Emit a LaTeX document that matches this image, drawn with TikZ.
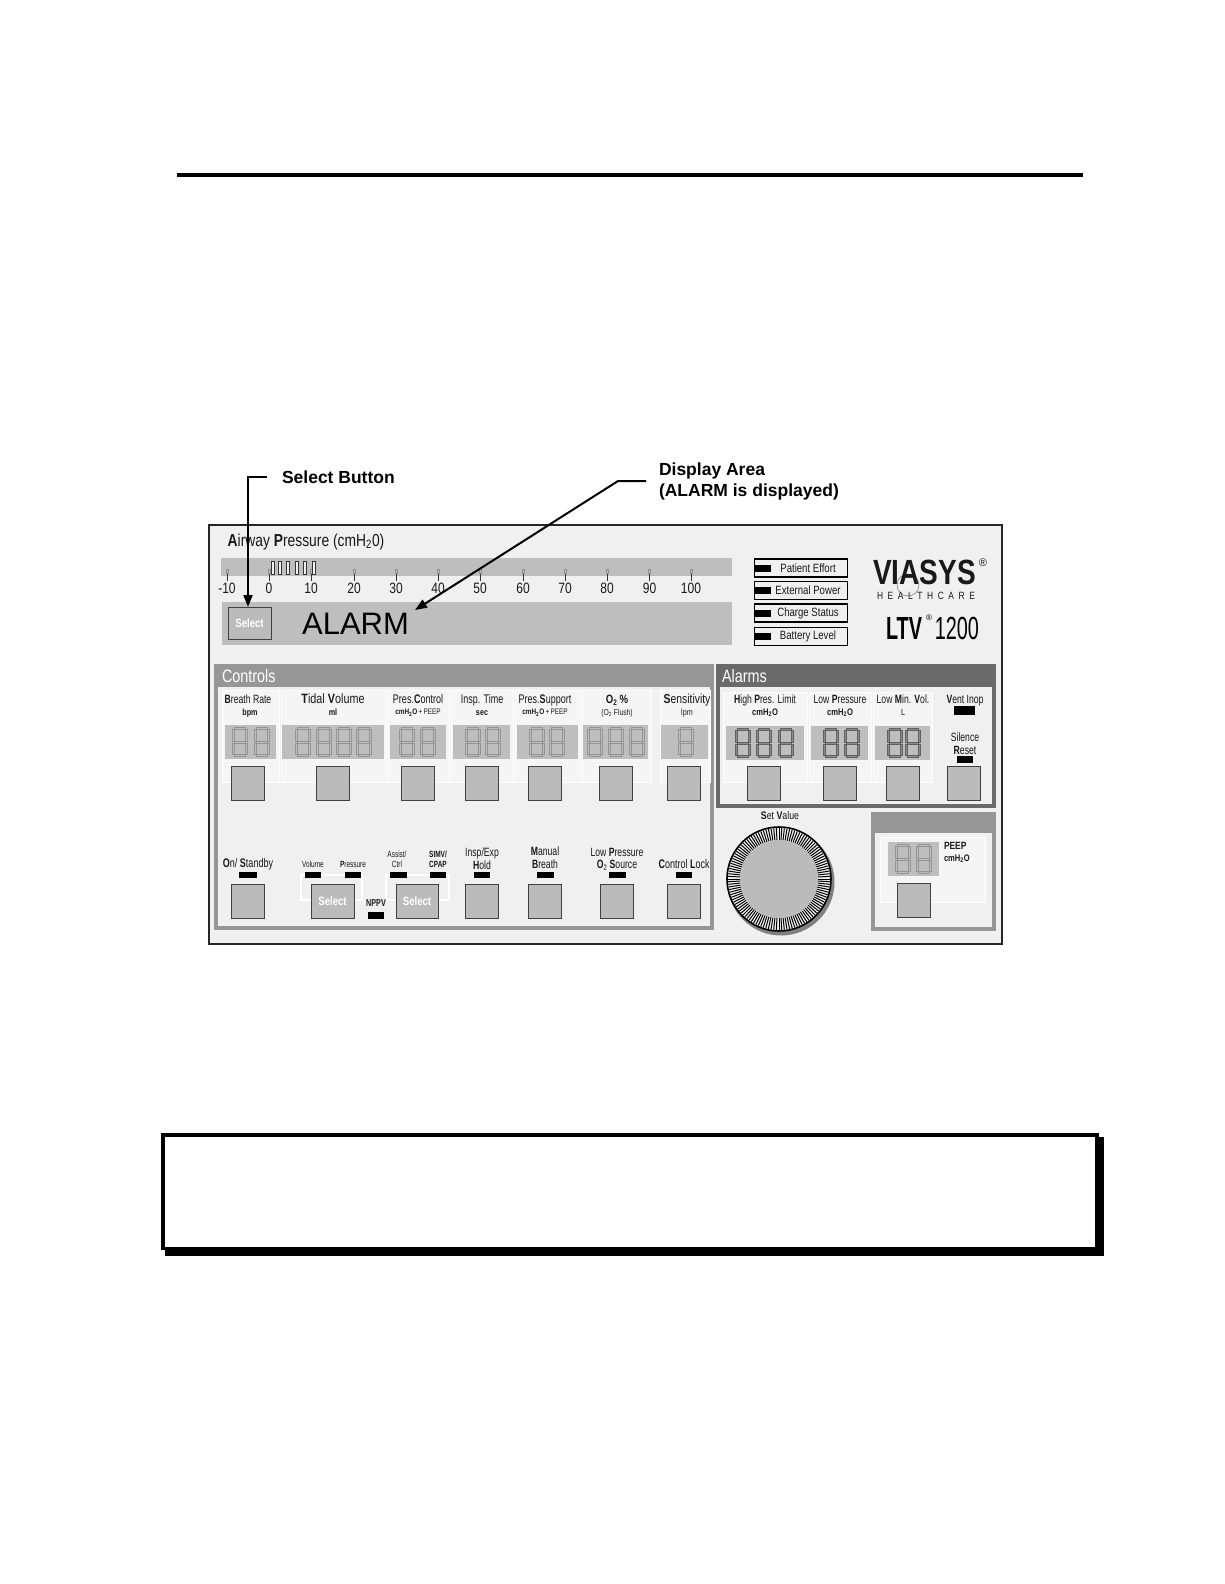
\documentclass[tikz,border=0pt]{standalone}
\usepackage{fontspec}
\usetikzlibrary{arrows.meta}
\setmainfont{Liberation Sans}
\newfontfamily\nar[FakeStretch=0.8]{Liberation Sans}
\newfontfamily\nnar[FakeStretch=0.72]{Liberation Sans}
\newfontfamily\vnar[FakeStretch=0.62]{Liberation Sans}
\definecolor{panelbg}{HTML}{F0F0F0}
\definecolor{stripc}{HTML}{BEBEBE}
\definecolor{btnc}{HTML}{BBBBBB}
\definecolor{ctrlc}{HTML}{969696}
\definecolor{alarmc}{HTML}{6A6A6A}
\definecolor{cellc}{HTML}{F5F5F5}
\newcounter{tc}
\newcommand\tx[4]{\stepcounter{tc}\edef\nm{t\number\value{tc}}%
  \node[txt,anchor=base,yshift={-0.36*#2*1pt},font=\fontsize{#2}{#2}\selectfont\nar,#3] (\nm) at (#1) {#4};}
\newcommand\txn[4]{\stepcounter{tc}\edef\nm{t\number\value{tc}}%
  \node[txt,anchor=base,yshift={-0.36*#2*1pt},font=\fontsize{#2}{#2}\selectfont\nnar,#3] (\nm) at (#1) {#4};}
\newcommand\btn[4][]{\node[btnbox,#1] (#2) at (#3) {#4};}
\newcommand\led[4]{\stepcounter{tc}\edef\nm{l\number\value{tc}}%
  \node[ledbox,minimum width=#3pt,minimum height=#4pt] (\nm) at (#1,#2) {};}
% seven-segment digit: x, y, style
\newcommand\digit[3]{%
  \begin{scope}[shift={(#1,#2)},#3]
    \filldraw (-5.5,-14.5) rectangle (5.5,-12.5);
    \filldraw (-5.5,-1) rectangle (5.5,1);
    \filldraw (-5.5,12.5) rectangle (5.5,14.5);
    \filldraw (-7.5,-12.5) rectangle (-5.5,-1);
    \filldraw (5.5,-12.5) rectangle (7.5,-1);
    \filldraw (-7.5,1) rectangle (-5.5,12.5);
    \filldraw (5.5,1) rectangle (7.5,12.5);
  \end{scope}}
\newcommand\cell[4]{\draw[cellbox] (#1,#2) rectangle (#3,#4);}
\tikzset{
  txt/.style={inner sep=0pt,outer sep=0pt,text=black!90},
  btnbox/.style={draw=black!75,line width=1pt,fill=btnc,minimum width=33pt,minimum height=34pt,inner sep=0pt,outer sep=0pt,
     font=\fontsize{12}{12}\selectfont\bfseries\nar,text=white},
  ledbox/.style={fill=black,inner sep=0pt,outer sep=0pt},
  statbox/.style={draw=black,line width=1.6pt,fill=panelbg,minimum width=93pt,minimum height=18pt,inner sep=0pt,
     font=\fontsize{12}{12}\selectfont\nar,text=black!90},
  strip/.style={fill=stripc,draw=none},
  cellbox/.style={draw=white,line width=1pt,fill=cellc},
  lightseg/.style={draw=black!42,fill=stripc,line width=.7pt},
  darkseg/.style={draw=black!62,fill=black!45,line width=1pt},
  lead/.style={draw=black,line width=2pt},
  callout/.style={inner ysep=0pt,outer sep=0pt,align=left,text=black,font=\fontsize{17.5}{21}\selectfont\bfseries},
  pointer/.style={lead,-{Triangle[length=12pt,width=9pt]}},
}
\begin{document}
\begin{tikzpicture}[x=1pt,y=-1pt]
\useasboundingbox (0,0) rectangle (1224,1584);
\fill[white] (0,0) rectangle (1224,1584);
% top rule
\fill[black] (177,173) rectangle (1083,177);
% note box
\fill[black] (165,1137) rectangle (1104,1256);
\fill[black] (161,1133) rectangle (1099,1250);
\fill[white] (165,1137) rectangle (1095,1247);
% panel
\draw[draw=black!85,line width=1.2pt,fill=panelbg] (209,525) rectangle (1002,944);
\tx{306,540}{17.3}{}{\textbf{A}irway \textbf{P}ressure (cmH\textsubscript{2}0)}
\fill[strip] (221,558) rectangle (732,576);
\fill[strip] (222,602) rectangle (732,645);
% scale
\foreach \x/\v in {227/-10,269/0,311/10,354/20,396/30,438/40,480/50,523/60,565/70,607/80,649.5/90,691/100}{
  \draw[black!80,line width=.9pt] (\x,572) -- (\x,581);
  \draw[black!45,fill=stripc,line width=.5pt] (\x-.8,569) rectangle (\x+.8,573);
  \tx{\x,588}{15}{}{\v}
}
\foreach \x in {273,280,288,297,305,314}{
  \draw[black!80,line width=.8pt,fill=panelbg] (\x-1.5,561) rectangle (\x+1.5,574);
}
% select button and alarm text
\node[btnbox,minimum width=43pt,minimum height=32pt] (selA) at (249.5,623) {Select};
\node[txt,font=\fontsize{31}{31}\selectfont,text=black] (alarm) at (355.5,624) {ALARM};
\coordinate (alarmTip) at (415,610);
\coordinate (dispBend) at (618,481);
% status boxes
\foreach \n/\y/\t in {pe/568/Patient Effort,ep/590.5/External Power,cs/613/Charge Status,bl/636.5/Battery Level}{
  \node[statbox] (\n) at (801,\y) {\hspace{14pt}\t};
  \fill[black] (754,\y-3.5) rectangle (771,\y+3.5);
}
% logo
\draw[black!55,line width=.5pt] (908,585) circle (11);
\node[txt,font=\fontsize{35}{35}\selectfont\bfseries\nar,text=black!90] (viasys) at (924.5,572.5) {VIASYS};
\node[txt,font=\fontsize{11}{11}\selectfont,text=black!90] (viasysR) at (983,563) {®};
\node[txt,font=\fontsize{10.5}{10.5}\selectfont\nar,text=black!90] (hc) at (926,595.5) {H\hspace{4.6pt}E\hspace{4.6pt}A\hspace{4.6pt}L\hspace{4.6pt}T\hspace{4.6pt}H\hspace{4.6pt}C\hspace{4.6pt}A\hspace{4.6pt}R\hspace{4.6pt}E};
\node[txt,font=\fontsize{32}{32}\selectfont\bfseries\vnar,text=black,anchor=west] (ltv) at (886,628) {LTV};
\node[txt,font=\fontsize{8}{8}\selectfont,text=black] (ltvR) at (929,618) {®};
\node[txt,font=\fontsize{32}{32}\selectfont\vnar,text=black,anchor=east] (ltvN) at (979,628) {1200};
% controls section
\fill[ctrlc] (214,664) rectangle (714,930);
\fill[panelbg] (218,687) rectangle (710,926);
\node[txt,font=\fontsize{18}{18}\selectfont\nar,text=white,anchor=west] (ctrlT) at (222,676) {Controls};
\cell{222}{690}{279}{782}
\cell{281}{690}{386}{782}
\cell{388}{690}{449}{782}
\cell{451}{690}{513}{782}
\cell{515}{690}{580}{782}
\cell{582}{690}{651}{782}
\cell{660}{690}{710}{782}
\foreach \a/\b in {225/276,282/384,390/446,453/510,517/578,583/648,661/708}{
  \fill[strip] (\a,725) rectangle (\b,759);
}
\foreach \x in {240,262,303,324,344,364,407,428,473,493,537,557,595,616,637,686}{
  \digit{\x}{742}{lightseg}
}
\btn{bBR}{248,783}{}
\btn{bTV}{333,783}{}
\btn{bPC}{418,783}{}
\btn{bIT}{482,783}{}
\btn{bPS}{545,783}{}
\btn{bO2}{616,783}{}
\btn{bSE}{684,783}{}
\txn{248,699}{12}{}{\textbf{B}reath Rate}
\tx{250,712}{9}{}{\textbf{bpm}}
\tx{333,699}{13.5}{}{\textbf{T}idal \textbf{V}olume}
\tx{333,712}{9}{}{\textbf{ml}}
\txn{418,699}{12.5}{}{Pres.\textbf{C}ontrol}
\tx{418,712}{8}{}{\textbf{cmH\textsubscript{2}O}\,+\,PEEP}
\txn{482,699}{12.5}{}{Insp. Time}
\tx{482,712}{9}{}{\textbf{sec}}
\txn{545,699}{12.5}{}{Pres.\textbf{S}upport}
\tx{545,712}{8}{}{\textbf{cmH\textsubscript{2}O}\,+\,PEEP}
\tx{617,699}{12}{}{\textbf{O\textsubscript{2}\,\%}}
\tx{617,712}{8.5}{}{(O\textsubscript{2} Flush)}
\tx{687,699}{13}{}{\textbf{S}ensitivity}
\tx{687,712}{9}{}{lpm}
% lower row
\draw[white,line width=1.2pt] (301,875) rectangle (362,900);
\draw[white,line width=1.2pt] (386,875) rectangle (449,900);
\btn{bOS}{248,901}{}
\btn[minimum width=43pt]{bVP}{332.5,901}{Select}
\btn[minimum width=42pt]{bAS}{417,901}{Select}
\btn{bHO}{482,901}{}
\btn{bMB}{545,901}{}
\btn{bLP}{617,901}{}
\btn{bCL}{684,901}{}
\foreach \x/\w in {248/18,313/16,353/16,398/17,438/16,482/16,545/17,617/17,684/16}{
  \led{\x}{874.5}{\w}{6}
}
\led{376}{915.5}{16}{7}
\txn{248,863}{12.5}{}{\textbf{O}n/ \textbf{S}tandby}
\txn{313,864}{9}{}{Volume}
\txn{353,864}{9}{}{\textbf{P}ressure}
\txn{397,854}{9}{}{Assist/}
\txn{397,864}{9}{}{Ctrl}
\txn{438,854}{9}{}{\textbf{SIMV/}}
\txn{438,864}{9}{}{\textbf{CPAP}}
\txn{482,852}{12}{}{Insp/Exp}
\txn{482,865}{12}{}{\textbf{H}old}
\txn{545,851}{12}{}{\textbf{M}anual}
\txn{545,864}{12}{}{\textbf{B}reath}
\txn{617,852}{12}{}{Low \textbf{P}ressure}
\txn{617,864}{12}{}{\textbf{O}\textsubscript{2} \textbf{S}ource}
\txn{684,864}{12.5}{}{\textbf{C}ontrol \textbf{L}ock}
\txn{376,903}{10}{}{\textbf{NPPV}}
% alarms section
\fill[alarmc] (716,664) rectangle (996,808);
\fill[panelbg] (720,687) rectangle (992,804);
\node[txt,font=\fontsize{18}{18}\selectfont\nar,text=white,anchor=west] (alarmT) at (722,676) {Alarms};
\cell{723}{692}{807}{782}
\cell{809}{692}{871}{782}
\cell{873}{692}{932}{782}
\foreach \a/\b in {726/804,811/868,875/930}{
  \fill[strip] (\a,726) rectangle (\b,760);
}
\foreach \x in {743,764,786,831,852,895,913}{
  \digit{\x}{743}{darkseg}
}
\btn{bHL}{764,783}{}
\btn{bLW}{840,783}{}
\btn{bLM}{903,783}{}
\btn{bSR}{964,783}{}
\txn{765,699}{12}{}{\textbf{H}igh \textbf{P}res. Limit}
\txn{840,699}{12}{}{Low \textbf{P}ressure}
\txn{903,699}{12}{}{Low \textbf{M}in. \textbf{V}ol.}
\txn{965,699}{12}{}{\textbf{V}ent Inop}
\tx{765,712}{9.5}{}{\textbf{cmH\textsubscript{2}O}}
\tx{840,712}{9.5}{}{\textbf{cmH\textsubscript{2}O}}
\tx{903,712}{9}{}{L}
\txn{965,737}{12}{}{Silence}
\txn{965,750}{12}{}{\textbf{R}eset}
\led{964.5}{710.5}{21}{9}
\led{965}{759.5}{16}{7}
% set value knob
\tx{780,816}{11}{}{\textbf{S}et \textbf{V}alue}
\fill[black!50] (781,882) circle (53.5);
\draw[black,line width=1.6pt,fill=panelbg] (779,879) circle (52);
\foreach \a in {0,3,...,357}{
  \draw[black,line width=1pt] ({779+39*cos(\a)},{879+39*sin(\a)}) -- ({779+51*cos(\a)},{879+51*sin(\a)});
}
\fill[btnc] (779,879) circle (39);
% PEEP box
\fill[ctrlc] (871,812) rectangle (996,931);
\fill[panelbg] (875,833) rectangle (992,927);
\draw[cellbox] (880,837) rectangle (985,902);
\fill[strip] (888,842) rectangle (939,876);
\digit{903}{859}{lightseg}
\digit{924}{859}{lightseg}
\btn{bPE}{913.5,900}{}
\tx{944,846}{10.5}{anchor=base west}{\textbf{PEEP}}
\tx{944,858}{9.5}{anchor=base west}{\textbf{cmH\textsubscript{2}O}}
% callouts
\node[callout,anchor=west,inner xsep=15pt] (lblSel) at (267,477) {Select Button};
\node[callout,anchor=west,inner xsep=13pt] (lblDisp) at (646,481) {Display Area\\(ALARM is displayed)};
\draw[pointer] (lblSel.west) -| ([xshift=-1.5pt]selA.north);
\draw[pointer] (lblDisp.west) -- (dispBend) -- (alarmTip);
\end{tikzpicture}
\end{document}
